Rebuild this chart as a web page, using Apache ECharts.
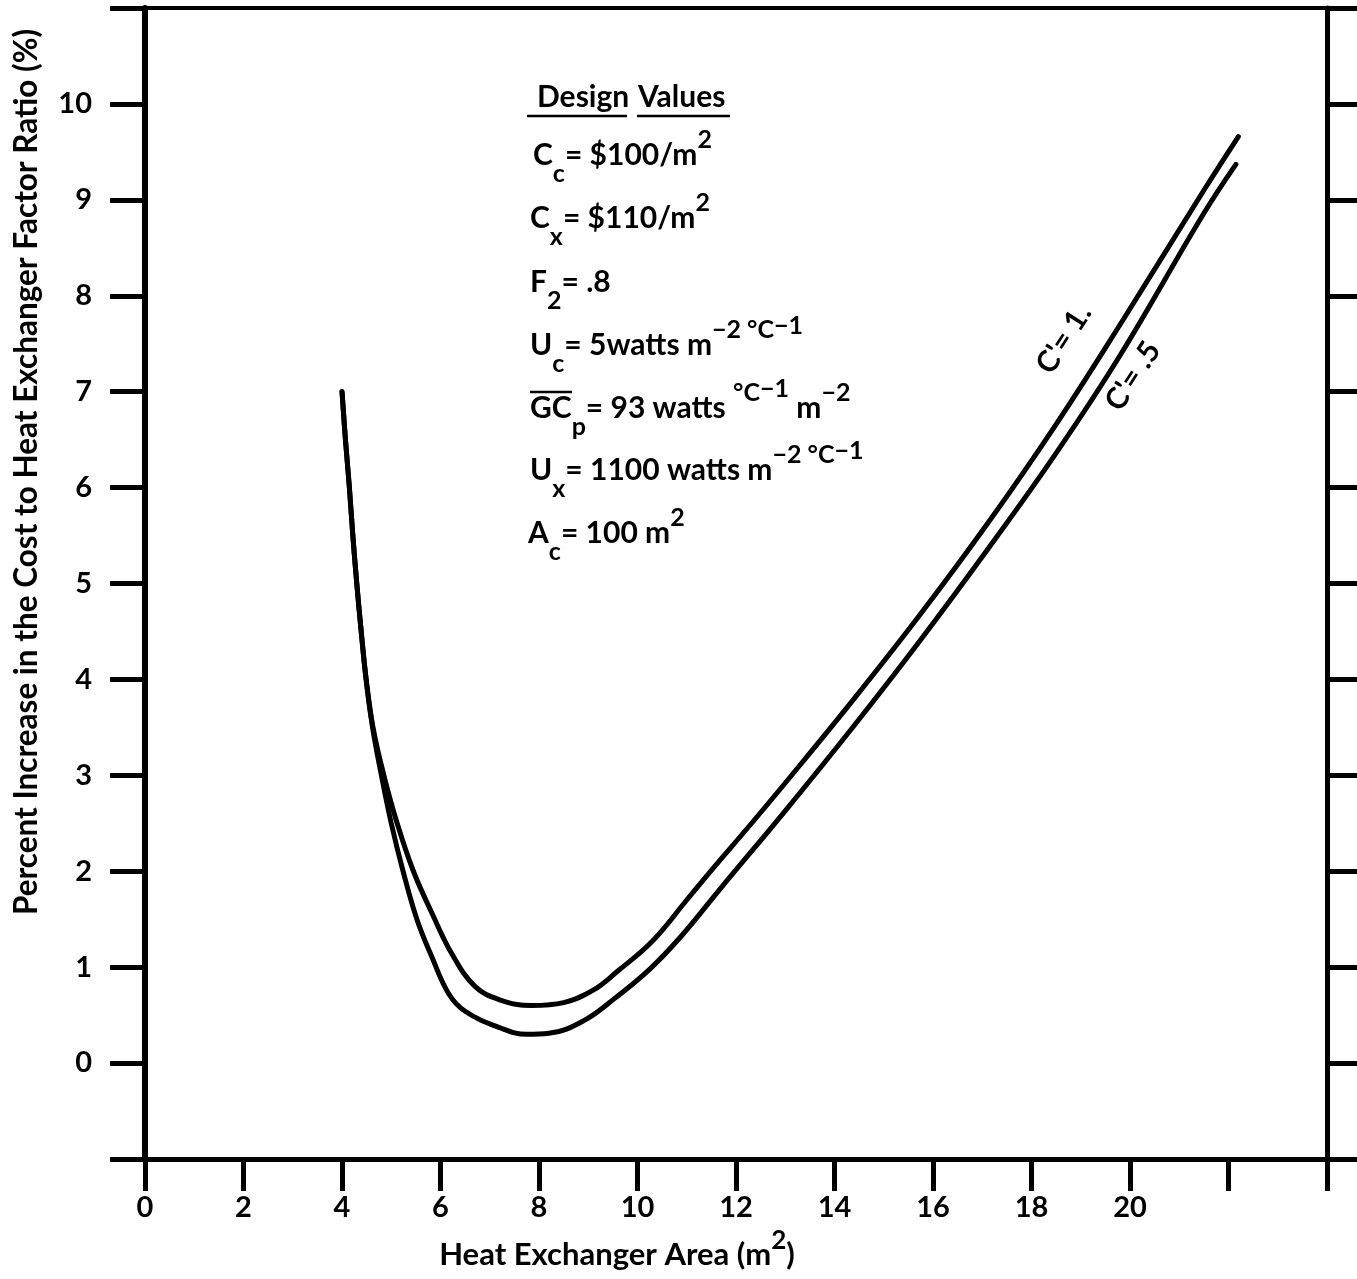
<!DOCTYPE html>
<html><head><meta charset="utf-8">
<script src="https://cdn.jsdelivr.net/npm/echarts@6/dist/echarts.min.js"></script>
<style>html,body{margin:0;padding:0;background:#fff}#c{width:1357px;height:1279px}</style>
</head><body><div id="c"></div>
<script>
// ---- data ----
const xTickLabels = ['0','2','4','6','8','10','12','14','16','18','20'];
const yTickLabels = ['0','1','2','3','4','5','6','7','8','9','10'];
// C' = 1. (upper curve near the minimum)
const curveC1 = [
  [4.00,7.00],[4.07,6.50],[4.15,6.00],[4.22,5.50],[4.30,5.00],[4.39,4.50],[4.49,4.00],
  [4.63,3.50],[4.85,3.00],[5.12,2.50],[5.45,2.00],[5.83,1.56],[6.23,1.14],[6.70,0.80],
  [7.20,0.66],[7.85,0.60],[8.50,0.63],[9.10,0.76],[9.60,0.96],[10.30,1.27],[11.00,1.70],
  [11.50,2.01],[12.30,2.49],[13.00,2.92],[14.40,3.80],[15.70,4.65],[17.10,5.62],
  [18.50,6.66],[19.80,7.70],[21.50,9.10],[22.20,9.66]
];
// C' = .5 (lower curve near the minimum)
const curveC05 = [
  [4.00,7.00],[4.07,6.50],[4.15,6.00],[4.22,5.50],[4.30,5.00],[4.39,4.50],[4.49,4.00],
  [4.62,3.50],[4.80,3.00],[5.00,2.50],[5.24,2.00],[5.52,1.50],[5.83,1.10],[6.17,0.72],
  [6.50,0.54],[7.20,0.37],[7.75,0.30],[8.20,0.31],[8.90,0.44],[9.55,0.68],[10.25,0.98],
  [10.90,1.33],[11.70,1.83],[13.00,2.63],[14.40,3.52],[15.70,4.38],[17.10,5.35],
  [18.50,6.36],[19.80,7.38],[21.50,8.86],[22.15,9.37]
];
const curveLabels = ["C'= 1.", "C'= .5"];
const axisTitleX = '{b|Heat Exchanger Area (m}{sup|2}{b|)}';
const axisTitleY = 'Percent Increase in the Cost to Heat Exchanger Factor Ratio (%)';
const designTitle = ['Design', 'Values'];
const designLines = [
  '{b|C}{sub|c}{b|= $100/m}{sup|2}',
  '{b|C}{sub|x}{b|= $110/m}{sup|2}',
  '{b|F}{sub|2}{b|= .8}',
  '{b|U}{sub|c}{b|= 5watts m}{sup|−2 °C}{sup2|−1}',
  '{b|GC}{sub|p}{b|= 93 watts }{sup|°C}{sup2|−1}{b| m}{sup|−2}',
  '{b|U}{sub|x}{b|= 1100 watts m}{sup|−2 °C}{sup2|−1}',
  '{b|A}{sub|c}{b|= 100 m}{sup|2}'
];

const FONT = 'Lato';
const FW = 'bold';
const chart = echarts.init(document.getElementById('c'), null, {renderer: 'canvas'});
const rich = {
  b: {fontFamily: FONT, fontWeight: FW, fontSize: 30, color: '#000', lineHeight: 62, verticalAlign: 'middle'},
  sub: {fontFamily: FONT, fontWeight: FW, fontSize: 25, color: '#000', height: 25, lineHeight: 25, verticalAlign: 'bottom'},
  sup: {fontFamily: FONT, fontWeight: FW, fontSize: 25, color: '#000', height: 31, lineHeight: 25, verticalAlign: 'top'},
  sup2: {fontFamily: FONT, fontWeight: FW, fontSize: 25, color: '#000', height: 23, lineHeight: 25, verticalAlign: 'top'}
};
const lineYs = [155, 218, 282, 345, 408, 470, 533];
const lineXs = [533, 530, 530, 530, 530, 530, 528];
const graphics = [];
designLines.forEach((t, i) => {
  graphics.push({type: 'text', x: lineXs[i], y: lineYs[i],
    style: {text: t, rich: rich, fill: '#000', align: 'left', verticalAlign: 'middle'}});
});
graphics.push({type: 'text', x: 537, y: 97,
  style: {text: designTitle[0], fontFamily: FONT, fontWeight: FW, fontSize: 30, fill: '#000', align: 'left', verticalAlign: 'middle'}});
graphics.push({type: 'text', x: 638, y: 97,
  style: {text: designTitle[1], fontFamily: FONT, fontWeight: FW, fontSize: 30, fill: '#000', align: 'left', verticalAlign: 'middle'}});
graphics.push({type: 'line', shape: {x1: 527, y1: 116, x2: 627, y2: 116}, style: {stroke: '#000', lineWidth: 2.5}});
graphics.push({type: 'line', shape: {x1: 637, y1: 116, x2: 730, y2: 116}, style: {stroke: '#000', lineWidth: 2.5}});
graphics.push({type: 'line', shape: {x1: 530, y1: 392, x2: 572, y2: 392}, style: {stroke: '#000', lineWidth: 2.5}});
graphics.push({type: 'text', x: 27, y: 472, rotation: Math.PI / 2,
  style: {text: axisTitleY, fontFamily: FONT, fontWeight: FW, fontSize: 31.5, fill: '#000', align: 'center', verticalAlign: 'middle'}});
graphics.push({type: 'text', x: 617, y: 1255,
  style: {text: axisTitleX, fill: '#000', align: 'center', verticalAlign: 'middle',
    rich: {b: {fontFamily: FONT, fontWeight: FW, fontSize: 31, lineHeight: 58, verticalAlign: 'middle'},
           sup: {fontFamily: FONT, fontWeight: FW, fontSize: 26, height: 30, lineHeight: 26, verticalAlign: 'top'}}}});
graphics.push({type: 'text', x: 1064, y: 339, rotation: 57 * Math.PI / 180,
  style: {text: curveLabels[0], fontFamily: FONT, fontWeight: FW, fontSize: 30, fill: '#000', align: 'center', verticalAlign: 'middle'}});
graphics.push({type: 'text', x: 1133, y: 376, rotation: 57 * Math.PI / 180,
  style: {text: curveLabels[1], fontFamily: FONT, fontWeight: FW, fontSize: 30, fill: '#000', align: 'center', verticalAlign: 'middle'}});

const lineStyle = {color: '#000', width: 5, cap: 'round', join: 'round'};
chart.setOption({
  animation: false,
  backgroundColor: '#fff',
  grid: {left: 145, right: 30, top: 8, bottom: 120, containLabel: false},
  xAxis: [{
    type: 'value', position: 'bottom', min: 0, max: 24, interval: 2,
    axisLine: {show: true, onZero: false, lineStyle: {color: '#000', width: 5}},
    axisTick: {show: true, inside: false, length: 32, lineStyle: {color: '#000', width: 5}},
    axisLabel: {margin: 34, fontFamily: FONT, fontWeight: FW, fontSize: 29, color: '#000',
      formatter: v => (xTickLabels.indexOf(String(v)) >= 0 ? String(v) : '')},
    splitLine: {show: false}
  }, {
    type: 'value', position: 'top', min: 0, max: 24, interval: 2,
    axisLine: {show: true, onZero: false, lineStyle: {color: '#000', width: 4}},
    axisTick: {show: false}, axisLabel: {show: false}, splitLine: {show: false}
  }],
  yAxis: [{
    type: 'value', position: 'left', min: -1, max: 11, interval: 1,
    axisLine: {show: true, onZero: false, lineStyle: {color: '#000', width: 6}},
    axisTick: {show: true, inside: false, length: 35, lineStyle: {color: '#000', width: 5}},
    axisLabel: {margin: 53, fontFamily: FONT, fontWeight: FW, fontSize: 29, color: '#000',
      formatter: v => (yTickLabels.indexOf(String(v)) >= 0 ? String(v) : '')},
    splitLine: {show: false}
  }, {
    type: 'value', position: 'right', min: -1, max: 11, interval: 1,
    axisLine: {show: true, onZero: false, lineStyle: {color: '#000', width: 5}},
    axisTick: {show: true, inside: false, length: 30, lineStyle: {color: '#000', width: 5}},
    axisLabel: {show: false}, splitLine: {show: false}
  }],
  series: [{
    name: curveLabels[0], type: 'line', data: curveC1, showSymbol: false, smooth: 0.4,
    lineStyle: lineStyle, xAxisIndex: 0, yAxisIndex: 0
  }, {
    name: curveLabels[1], type: 'line', data: curveC05, showSymbol: false, smooth: 0.4,
    lineStyle: lineStyle, xAxisIndex: 0, yAxisIndex: 0
  }],
  graphic: graphics
});
</script></body></html>
